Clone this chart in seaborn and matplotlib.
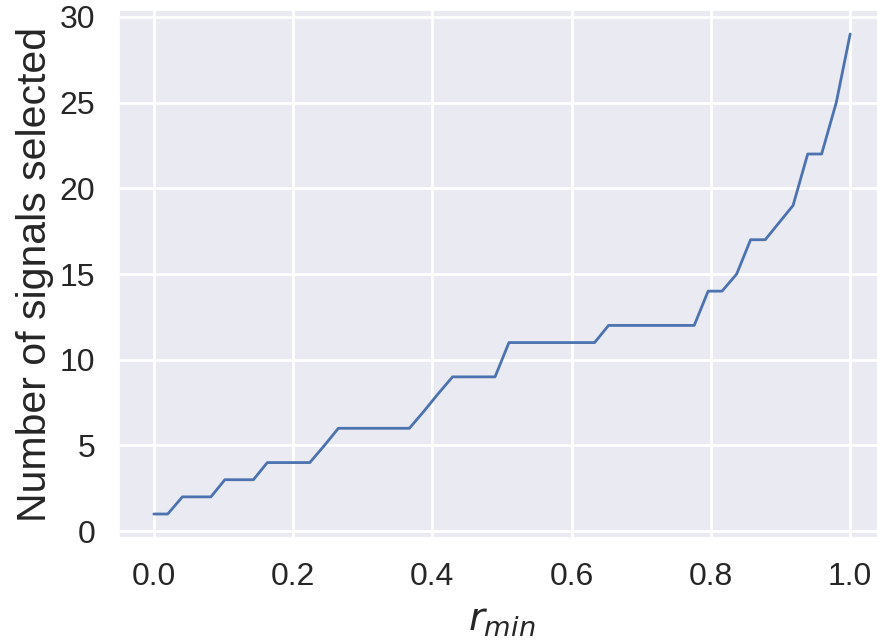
import seaborn as sns
import matplotlib.pyplot as plt
import pandas as pd

# sample points of r_min and the number of signals kept at each
r_min = [0.0, 0.020, 0.041, 0.061, 0.082, 0.102, 0.122, 0.143, 0.163, 0.184,
         0.204, 0.224, 0.245, 0.265, 0.286, 0.306, 0.327, 0.347, 0.367, 0.388,
         0.408, 0.429, 0.449, 0.469, 0.490, 0.510, 0.531, 0.551, 0.571, 0.592,
         0.612, 0.633, 0.653, 0.673, 0.694, 0.714, 0.735, 0.755, 0.776, 0.796,
         0.816, 0.837, 0.857, 0.878, 0.898, 0.918, 0.939, 0.959, 0.980, 1.0]
n_selected = [1, 1, 2, 2, 2, 3, 3, 3, 4, 4,
              4, 4, 5, 6, 6, 6, 6, 6, 6, 7,
              8, 9, 9, 9, 9, 11, 11, 11, 11, 11,
              11, 11, 12, 12, 12, 12, 12, 12, 12, 14,
              14, 15, 17, 17, 18, 19, 22, 22, 25, 29]

x_ticks = [0.0, 0.2, 0.4, 0.6, 0.8, 1.0]
y_ticks = [0, 5, 10, 15, 20, 25, 30]

sns.set_theme(style="darkgrid")
plt.rcParams['font.family'] = ['Liberation Sans', 'DejaVu Sans']
plt.rcParams['grid.linewidth'] = 2.0

df = pd.DataFrame({"r_min": r_min, "n": n_selected})

fig = plt.figure(figsize=(8.77, 6.42), dpi=100)
ax = fig.add_axes([119 / 877, 104 / 642, 766 / 877, 528 / 642])
sns.lineplot(data=df, x="r_min", y="n", ax=ax, color="#4C72B0", linewidth=2)

ax.set_xticks(x_ticks)
ax.set_yticks(y_ticks)
ax.set_xticklabels([f"{t:.1f}" for t in x_ticks])
ax.set_xlim(-0.05, 1.05)
ax.set_ylim(-0.4, 30.4)
ax.tick_params(axis="both", length=0, labelsize=23, pad=17)
ax.set_xlabel(r"$r_{min}$", fontsize=28, labelpad=8)
ax.set_ylabel("Number of signals selected", fontsize=29.5, labelpad=4)

fig.savefig("out.png", dpi=100)
